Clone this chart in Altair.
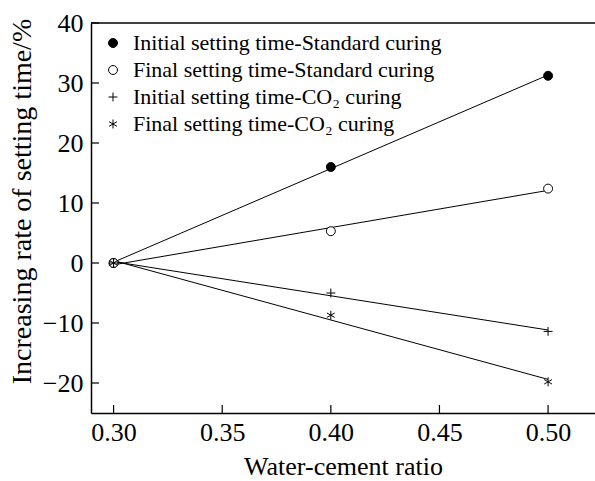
import altair as alt
import pandas as pd

# Water-cement ratio and increasing rate of setting time (%)
ratio = [0.30, 0.40, 0.50]
initial_standard = [0.0, 16.0, 31.2]
final_standard = [0.0, 5.3, 12.4]
initial_co2 = [0.0, -5.0, -11.4]
final_co2 = [0.0, -8.7, -19.8]

series_names = [
    "Initial setting time-Standard curing",
    "Final setting time-Standard curing",
    "Initial setting time-CO\u2082 curing",
    "\u00a0Final setting time-CO\u2082 curing",
]

x_ticks = [0.30, 0.35, 0.40, 0.45, 0.50]
y_ticks = [-20, -10, 0, 10, 20, 30, 40]

# marker styles per series
plus_path = "M-1,0H1M0,-1V1"
star_path = "M0,-1V1M-0.87,-0.5L0.87,0.5M-0.87,0.5L0.87,-0.5"
shapes = ["circle", "circle", plus_path, star_path]
fills = ["black", "white", "white", "white"]
strokes = ["black", "black", "black", "black"]
sizes = [80, 80, 100, 150]

rows = []
for name, vals in zip(series_names,
                      [initial_standard, final_standard, initial_co2, final_co2]):
    for r, v in zip(ratio, vals):
        rows.append({"series": name, "ratio": r, "value": v})
df = pd.DataFrame(rows)

FONT = "Liberation Serif"
W, H = 504, 390

x_scale = alt.Scale(domain=[0.2896, 0.5216], nice=False, zero=False)
y_scale = alt.Scale(domain=[-25, 40], nice=False, zero=False)

x_axis = alt.Axis(values=x_ticks, format=".2f", ticks=False, grid=False,
                  domainColor="black", domainWidth=1.5,
                  labelFont=FONT, labelFontSize=26, labelColor="black",
                  labelPadding=6, title="Water-cement ratio",
                  titleFont=FONT, titleFontSize=26, titleFontWeight="normal",
                  titleColor="black", titlePadding=8)
y_axis = alt.Axis(values=y_ticks, ticks=False, grid=False,
                  domainColor="black", domainWidth=1.5,
                  labelFont=FONT, labelFontSize=26, labelColor="black",
                  labelPadding=8, title="Increasing rate of setting time/%",
                  titleFont=FONT, titleFontSize=28, titleFontWeight="normal",
                  titleColor="black", titleX=-55, titleY=178,
                  titleBaseline="bottom", titleAngle=270)

base = alt.Chart(df)

lines = base.transform_regression(
    "ratio", "value", groupby=["series"], extent=[0.30, 0.50]
).mark_line(color="black", strokeWidth=1).encode(
    x=alt.X("ratio:Q", scale=x_scale, axis=x_axis),
    y=alt.Y("value:Q", scale=y_scale, axis=y_axis),
    detail="series:N",
)

legend = alt.Legend(orient="none", legendX=11, legendY=9, title=None,
                    labelFont=FONT, labelFontSize=22, labelColor="black",
                    symbolStrokeWidth=1, rowPadding=5, labelOffset=9,
                    padding=0, labelLimit=0)

points = base.mark_point(strokeWidth=1, opacity=1).encode(
    x=alt.X("ratio:Q", scale=x_scale),
    y=alt.Y("value:Q", scale=y_scale),
    shape=alt.Shape("series:N", sort=series_names,
                    scale=alt.Scale(domain=series_names, range=shapes),
                    legend=legend),
    fill=alt.Fill("series:N", sort=series_names,
                  scale=alt.Scale(domain=series_names, range=fills),
                  legend=legend),
    stroke=alt.Stroke("series:N", sort=series_names,
                      scale=alt.Scale(domain=series_names, range=strokes),
                      legend=legend),
    size=alt.Size("series:N", sort=series_names,
                  scale=alt.Scale(domain=series_names, range=sizes),
                  legend=legend),
)

# inward tick marks on the left and bottom axes, top frame line
xt = alt.Chart(pd.DataFrame({"t": x_ticks})).mark_rule(
    color="black", strokeWidth=1.2).encode(
    x=alt.X("t:Q", scale=x_scale), y=alt.value(H), y2=alt.value(H - 8))
yt = alt.Chart(pd.DataFrame({"t": y_ticks})).mark_rule(
    color="black", strokeWidth=1.2).encode(
    y=alt.Y("t:Q", scale=y_scale), x=alt.value(0), x2=alt.value(8))
top = alt.Chart(pd.DataFrame({"a": [0]})).mark_rule(
    color="black", strokeWidth=1.5).encode(
    y=alt.datum(40, scale=y_scale), x=alt.value(0), x2=alt.value(W))

chart = alt.layer(lines, xt, yt, top, points).properties(
    width=W, height=H,
    autosize=alt.AutoSizeParams(type="none"),
    padding={"left": 91, "top": 23, "right": 0, "bottom": 68},
    background="white",
).configure_view(stroke=None)

chart.save("out.html", embed_options={"renderer": "svg", "actions": False})
